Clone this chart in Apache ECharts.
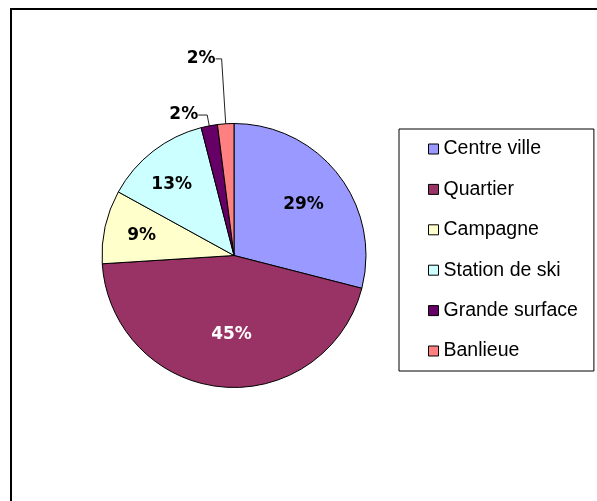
<!DOCTYPE html>
<html><head><meta charset="utf-8">
<script src="https://cdn.jsdelivr.net/npm/echarts@6/dist/echarts.min.js"></script>
<style>html,body{margin:0;padding:0;background:#fff}#c{width:597px;height:501px}</style>
</head><body><div id="c"></div>
<script>
const categories = ['Centre ville', 'Quartier', 'Campagne', 'Station de ski', 'Grande surface', 'Banlieue'];
const values = [29, 45, 9, 13, 2, 2];
const colors = ['#9999FF', '#993366', '#FFFFCC', '#CCFFFF', '#660066', '#FF8080'];
const labelColors = ['#000', '#fff', '#000', '#000', '#000', '#000'];
const labelPlacement = ['inside', 'inside', 'inside', 'inside', 'outside', 'outside'];
const labelOffsets = [[15, -9], [4, 10], [-25, -5], [-20, -16], null, null];
const leaderLengths = [null, null, null, null, [11, 9], [65, 6]];

const chart = echarts.init(document.getElementById('c'), null, {renderer: 'canvas'});
const data = categories.map((name, i) => {
  const item = {
    name: name,
    value: values[i],
    itemStyle: {color: colors[i]},
    label: {position: labelPlacement[i], color: labelColors[i]}
  };
  if (leaderLengths[i]) {
    item.labelLine = {show: true, length: leaderLengths[i][0], length2: leaderLengths[i][1]};
  } else {
    item.labelLine = {show: false};
  }
  return item;
});

chart.setOption({
  animation: false,
  backgroundColor: '#fff',
  graphic: [{
    type: 'rect', silent: true,
    shape: {x: 11, y: 9, width: 800, height: 800},
    style: {fill: 'none', stroke: '#000', lineWidth: 2}
  }],
  legend: {
    orient: 'vertical',
    left: 399, top: 129,
    padding: [10, 16, 10, 29],
    itemGap: 20.4,
    itemWidth: 10, itemHeight: 10,
    icon: 'rect',
    selectedMode: false,
    borderColor: '#000', borderWidth: 1,
    backgroundColor: '#fff',
    itemStyle: {borderColor: '#000', borderWidth: 1},
    textStyle: {fontFamily: 'Liberation Sans, Arial, sans-serif', fontSize: 19.5, color: '#000', lineHeight: 20},
    data: categories
  },
  series: [{
    type: 'pie',
    center: [234, 255.5],
    radius: 132,
    startAngle: 90,
    clockwise: true,
    avoidLabelOverlap: false,
    itemStyle: {borderColor: '#000', borderWidth: 1},
    emphasis: {disabled: true},
    label: {
      show: true,
      formatter: p => Math.round(p.percent) + '%',
      fontFamily: 'DejaVu Sans, sans-serif',
      fontWeight: 'bold',
      fontSize: 17,
      distanceToLabelLine: 0
    },
    labelLine: {lineStyle: {color: '#222', width: 1}, smooth: false},
    labelLayout: function (params) {
      const o = labelOffsets[params.dataIndex];
      return o ? {dx: o[0], dy: o[1]} : {};
    },
    data: data
  }]
});
</script>
</body></html>
